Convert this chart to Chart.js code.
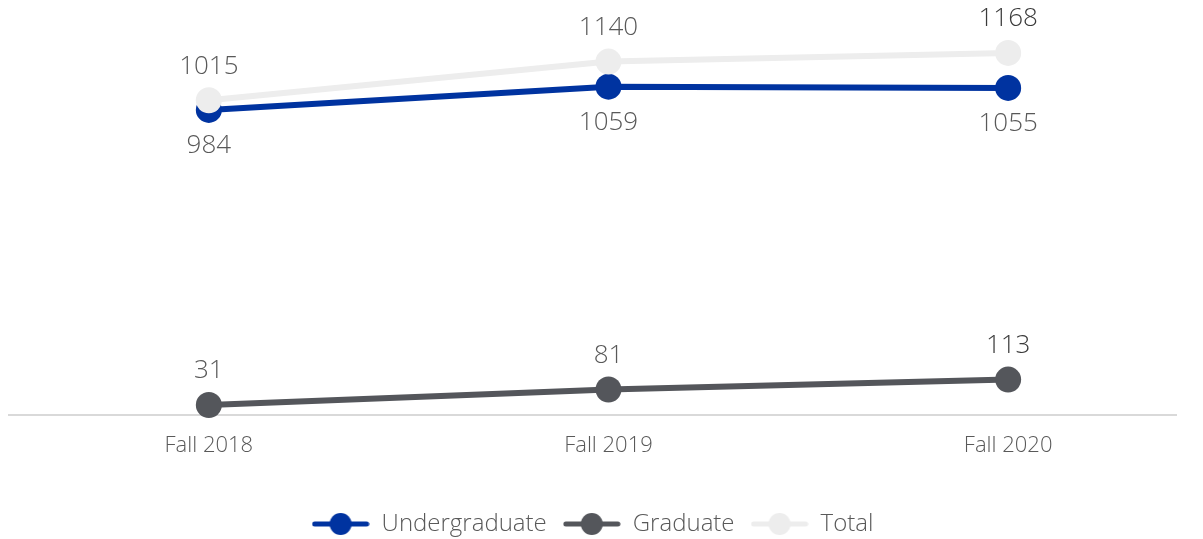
<!DOCTYPE html>
<html>
<head>
<meta charset="utf-8">
<script src="https://cdn.jsdelivr.net/npm/chart.js@4/dist/chart.umd.min.js"></script>
<style>
  html, body { margin: 0; padding: 0; background: #ffffff; }
  #wrap { width: 1203px; height: 539px; }
</style>
</head>
<body>
<div id="wrap"><canvas id="enrollChart" width="1203" height="539"></canvas></div>
<script>
// chart data
const terms = ["Fall 2018", "Fall 2019", "Fall 2020"];
const undergrad = [984, 1059, 1055];
const graduate = [31, 81, 113];
const total = [1015, 1140, 1168];

const FONT = "'Open Sans', 'Liberation Sans', sans-serif";

// legend symbol: short line with a dot in the middle
function legendSymbol(color) {
  const c = document.createElement("canvas");
  c.width = 58;
  c.height = 26;
  const g = c.getContext("2d");
  g.strokeStyle = color;
  g.lineWidth = 5;
  g.lineCap = "round";
  g.beginPath();
  g.moveTo(3, 13);
  g.lineTo(55, 13);
  g.stroke();
  g.fillStyle = color;
  g.beginPath();
  g.arc(29, 13, 11, 0, Math.PI * 2);
  g.fill();
  return c;
}

// simple value labels, drawn at the library's own point positions
const valueLabels = {
  id: "valueLabels",
  afterDatasetsDraw(chart) {
    const ctx = chart.ctx;
    ctx.save();
    ctx.font = "300 26px " + FONT;
    ctx.textAlign = "center";
    ctx.textBaseline = "middle";
    chart.data.datasets.forEach((ds, i) => {
      const meta = chart.getDatasetMeta(i);
      meta.data.forEach((pt, j) => {
        ctx.fillStyle = j === 2 && ds.label !== "Undergraduate" ? "#3a3a3a" : "#595959";
        ctx.fillText(String(ds.values[j]), pt.x, pt.y + ds.labelOffset);
      });
    });
    ctx.restore();
  }
};

function makeSeries(label, values, color, order, labelOffset) {
  return {
    label: label,
    values: values,
    data: values.map((v, i) => ({ x: i, y: v })),
    borderColor: color,
    backgroundColor: color,
    borderWidth: 6,
    pointRadius: 13,
    pointHoverRadius: 13,
    pointBorderWidth: 0,
    pointStyle: "circle",
    legendImg: legendSymbol(color),
    order: order,
    labelOffset: labelOffset,
    clip: false,
    tension: 0
  };
}

const datasets = [
  makeSeries("Undergraduate", undergrad, "#0033a0", 1, 36),
  makeSeries("Graduate", graduate, "#54565b", 2, -34),
  makeSeries("Total", total, "#ededed", 0, -34)
];

new Chart(document.getElementById("enrollChart").getContext("2d"), {
  type: "line",
  data: { datasets: datasets },
  plugins: [valueLabels],
  options: {
    responsive: false,
    animation: false,
    layout: { autoPadding: false, padding: { left: 9, right: 27, top: 43, bottom: -7 } },
    scales: {
      x: {
        type: "linear",
        min: -0.5,
        max: 2.42,
        afterBuildTicks: (scale) => {
          scale.ticks = terms.map((t, i) => ({ value: i }));
        },
        afterFit: (scale) => {
          scale.height += 19;
        },
        grid: { display: false, drawTicks: false },
        border: { display: true, color: "#d9d9d9", width: 2 },
        ticks: {
          padding: 18,
          color: "#595959",
          font: { family: FONT, size: 22, weight: "300" },
          callback: (v) => terms[v] || ""
        }
      },
      y: {
        display: false,
        min: 0,
        max: 1200
      }
    },
    plugins: {
      tooltip: { enabled: false },
      legend: {
        position: "bottom",
        labels: {
          usePointStyle: true,
          pointStyleWidth: 58,
          padding: 16,
          color: "#595959",
          font: { family: FONT, size: 24, weight: "300" },
          generateLabels: (chart) =>
            chart.data.datasets.map((ds, i) => ({
              text: ds.label,
              pointStyle: ds.legendImg,
              fillStyle: ds.borderColor,
              strokeStyle: ds.borderColor,
              lineWidth: 0,
              hidden: false,
              datasetIndex: i,
              fontColor: "#595959"
            }))
        }
      }
    }
  }
});
</script>
</body>
</html>
